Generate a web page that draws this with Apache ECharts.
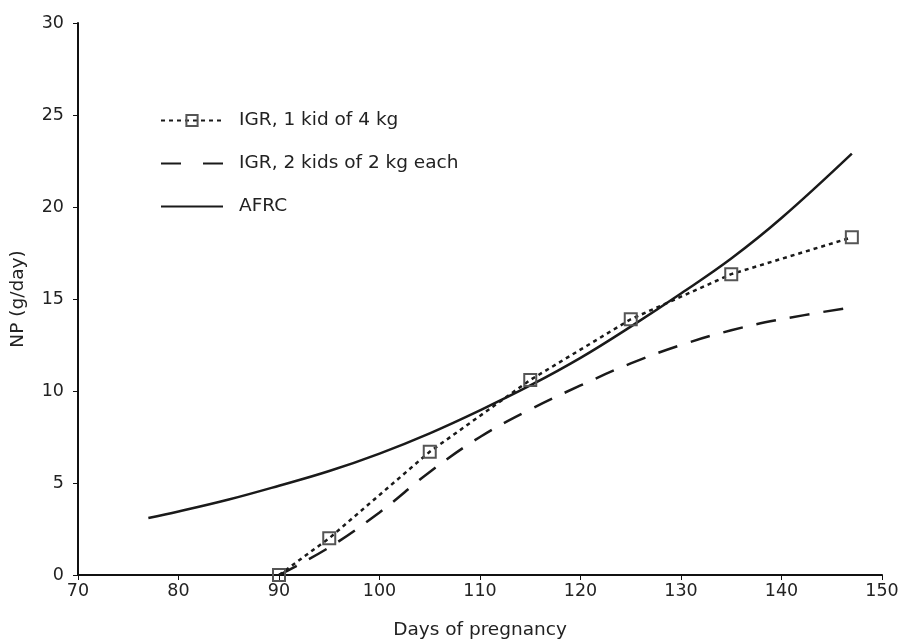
<!DOCTYPE html>
<html>
<head>
<meta charset="utf-8">
<script src="https://cdn.jsdelivr.net/npm/echarts@6/dist/echarts.min.js"></script>
<style>html,body{margin:0;padding:0;background:#fff}#c{width:904px;height:641px}</style>
</head>
<body>
<div id="c"></div>
<script>
const seriesNames = ['IGR, 1 kid of 4 kg', 'IGR, 2 kids of 2 kg each', 'AFRC'];
const igr1Days = [90, 95, 105, 115, 125, 135, 147];
const igr1Values = [0, 2.0, 6.7, 10.6, 13.9, 16.35, 18.35];
const igr2Days = [90, 95, 100, 105, 110, 115, 120, 125, 130, 135, 140, 147];
const igr2Values = [0, 1.5, 3.4, 5.6, 7.5, 9.0, 10.3, 11.5, 12.5, 13.3, 13.9, 14.55];
const afrcDays = [77, 80, 85, 90, 95, 100, 105, 110, 115, 120, 125, 130, 135, 140, 147];
const afrcValues = [3.1, 3.45, 4.1, 4.85, 5.65, 6.6, 7.7, 8.95, 10.3, 11.8, 13.5, 15.3, 17.2, 19.4, 22.9];
const xTicks = {min: 70, max: 150, interval: 10};
const yTicks = {min: 0, max: 30, interval: 5};

const zip = (a, b) => a.map((v, i) => [v, b[i]]);
const font = 'DejaVu Sans, sans-serif';
const fs = 17.5;
const fsBig = 18.5;
const txt = '#222';
const chart = echarts.init(document.getElementById('c'));
chart.setOption({
  animation: false,
  backgroundColor: '#fff',
  textStyle: {fontFamily: font},
  grid: {left: 78, right: 22, top: 23, bottom: 66, containLabel: false, outerBoundsMode: 'none'},
  legend: {
    orient: 'vertical', left: 155, top: 106,
    itemWidth: 62, itemHeight: 14, itemGap: 24,
    textStyle: {fontSize: fsBig, color: txt, fontFamily: font, padding: [0, 0, 0, 11]},
    data: [
      {name: seriesNames[0]},
      {name: seriesNames[1], lineStyle: {type: [20, 22]}, itemStyle: {opacity: 0}},
      {name: seriesNames[2], itemStyle: {opacity: 0}}
    ]
  },
  xAxis: {
    type: 'value', min: xTicks.min, max: xTicks.max, interval: xTicks.interval,
    name: 'Days of pregnancy', nameLocation: 'middle', nameGap: 46,
    nameTextStyle: {fontSize: fsBig, color: txt, fontFamily: font},
    axisLine: {lineStyle: {color: '#111', width: 2}},
    axisTick: {length: 5, lineStyle: {color: '#111', width: 1}},
    axisLabel: {fontSize: fs, color: txt, margin: 7, fontFamily: font},
    splitLine: {show: false}
  },
  yAxis: {
    type: 'value', min: yTicks.min, max: yTicks.max, interval: yTicks.interval,
    name: 'NP (g/day)', nameLocation: 'middle', nameGap: 50, nameRotate: 90,
    nameTextStyle: {fontSize: fsBig, color: txt, fontFamily: font},
    axisLine: {show: true, lineStyle: {color: '#111', width: 2}},
    axisTick: {show: true, length: 5, lineStyle: {color: '#111', width: 1}},
    axisLabel: {fontSize: fs, color: txt, margin: 14, fontFamily: font},
    splitLine: {show: false}
  },
  series: [
    {
      name: seriesNames[0], type: 'line', data: zip(igr1Days, igr1Values),
      smooth: false, symbol: 'rect', symbolSize: 12, showSymbol: true,
      lineStyle: {color: '#1a1a1a', width: 2.5, type: [4, 4]},
      itemStyle: {color: 'rgba(255,255,255,0)', borderColor: '#555', borderWidth: 2},
      z: 3
    },
    {
      name: seriesNames[1], type: 'line', data: zip(igr2Days, igr2Values),
      smooth: 0.4, symbol: 'none',
      lineStyle: {color: '#1a1a1a', width: 2.5, type: [20, 14]},
      itemStyle: {color: '#1a1a1a'}
    },
    {
      name: seriesNames[2], type: 'line', data: zip(afrcDays, afrcValues),
      smooth: 0.4, symbol: 'none',
      lineStyle: {color: '#1a1a1a', width: 2.5, type: 'solid'},
      itemStyle: {color: '#1a1a1a'}
    }
  ]
});
</script>
</body>
</html>
